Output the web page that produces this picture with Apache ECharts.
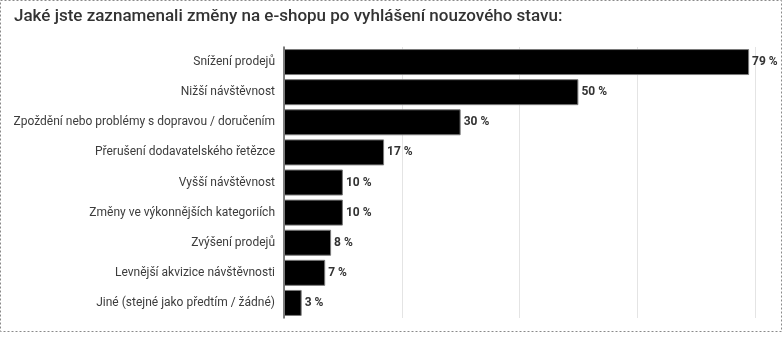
<!DOCTYPE html>
<html>
<head>
<meta charset="utf-8">
<script src="https://cdn.jsdelivr.net/npm/echarts@6/dist/echarts.min.js"></script>
<style>
  html, body { margin: 0; padding: 0; background: #fff; }
  #chart { width: 783px; height: 342px; }
</style>
</head>
<body>
<div id="chart"></div>
<script>
// Survey answers, top to bottom as drawn
const categories = [
  'Snížení prodejů',
  'Nižší návštěvnost',
  'Zpoždění nebo problémy s dopravou / doručením',
  'Přerušení dodavatelského řetězce',
  'Vyšší návštěvnost',
  'Změny ve výkonnějších kategoriích',
  'Zvýšení prodejů',
  'Levnější akvizice návštěvnosti',
  'Jiné (stejné jako předtím / žádné)'
];
const shares = [79, 50, 30, 17, 10, 10, 8, 7, 3];
const titleText = 'Jaké jste zaznamenali změny na e-shopu po vyhlášení nouzového stavu:';

const chart = echarts.init(document.getElementById('chart'), null, { renderer: 'canvas' });

chart.setOption({
  animation: false,
  backgroundColor: '#fff',
  textStyle: { fontFamily: 'Roboto, "Noto Sans", sans-serif' },
  title: {
    text: titleText,
    left: 9,
    top: 3,
    textStyle: { fontSize: 17, fontWeight: 500, color: '#333', fontFamily: 'Roboto' }
  },
  graphic: [{
    type: 'rect',
    shape: { x: 0.5, y: 0.5, width: 781, height: 331 },
    style: { fill: 'none', stroke: '#8a8a8a', lineWidth: 1, lineDash: [2, 2] },
    silent: true
  }],
  grid: { left: 284, right: 28, top: 47, bottom: 24, containLabel: false },
  xAxis: {
    type: 'value',
    min: 0,
    max: 80,
    interval: 20,
    axisLabel: { show: false },
    axisLine: { show: false },
    axisTick: { show: false },
    splitLine: { show: true, lineStyle: { color: '#e4e4e4', width: 1 } }
  },
  yAxis: {
    type: 'category',
    inverse: true,
    data: categories,
    axisLine: { show: true, lineStyle: { color: '#555', width: 1.5 } },
    axisTick: { show: false },
    axisLabel: { color: '#3c3c3c', fontSize: 12, margin: 9, fontFamily: 'Roboto' }
  },
  series: [{
    type: 'bar',
    data: shares,
    barWidth: 26,
    itemStyle: { color: '#000', borderColor: '#7a7a7a', borderWidth: 1 },
    label: {
      show: true,
      position: 'right',
      distance: 3,
      formatter: p => p.value + ' %',
      color: '#333',
      fontSize: 12,
      fontWeight: 'bold',
      fontFamily: 'Roboto'
    }
  }]
});
</script>
</body>
</html>
